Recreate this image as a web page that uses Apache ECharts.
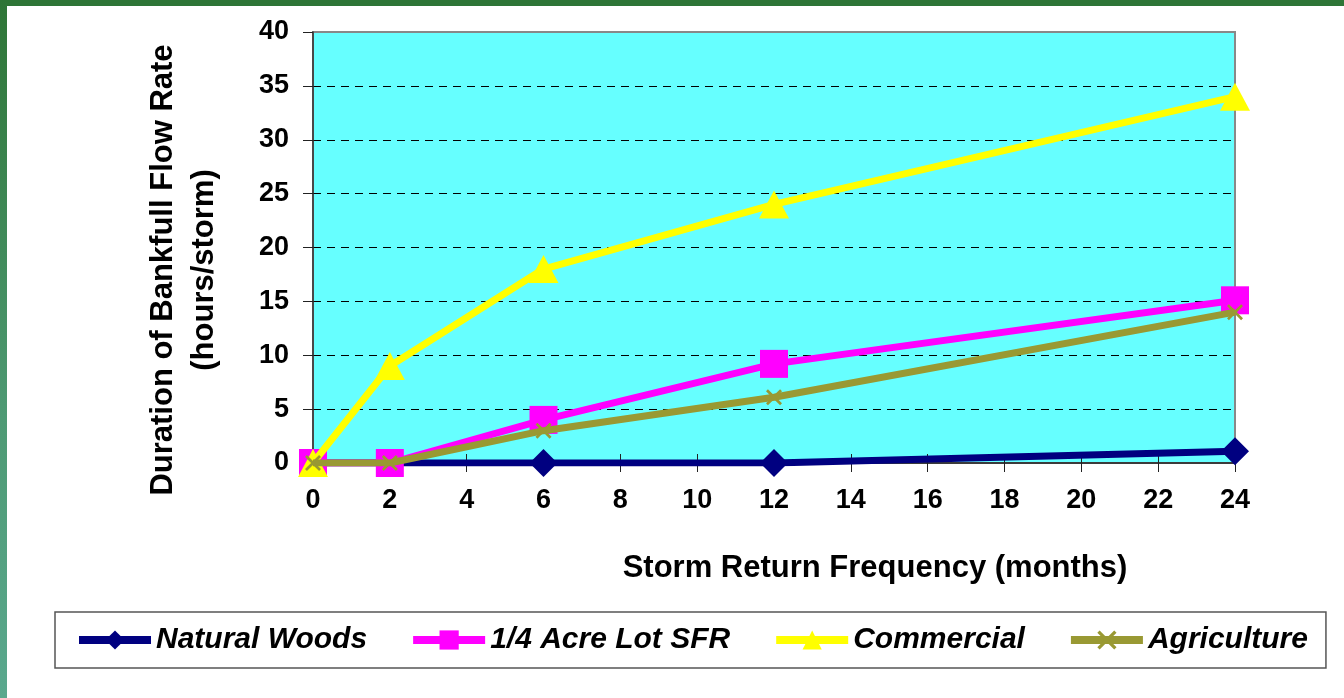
<!DOCTYPE html>
<html>
<head>
<meta charset="utf-8">
<title>Duration of Bankfull Flow Rate</title>
<script src="https://cdn.jsdelivr.net/npm/echarts@6/dist/echarts.min.js"></script>
<style>
  html, body { margin: 0; padding: 0; background: #ffffff; }
  #chart { width: 1344px; height: 698px; }
</style>
</head>
<body>
<div id="chart"></div>
<script>
// Storm return frequency (months) and duration of bankfull flow (hours/storm)
const months = [0, 2, 6, 12, 24];
const naturalWoods = [0, 0, 0, 0, 1.1];
const quarterAcreSFR = [0, 0, 4, 9.2, 15.1];
const commercial = [0, 9, 18, 24, 34];
const agriculture = [0, 0, 3, 6.1, 14];

const seriesNames = ['Natural Woods', '1/4 Acre Lot SFR', 'Commercial', 'Agriculture'];
const yTicks = [0, 5, 10, 15, 20, 25, 30, 35, 40];

const FONT = '"Liberation Sans", Arial, sans-serif';
const crossSymbol = 'path://M0,1.2L1.2,0L5,3.8L8.8,0L10,1.2L6.2,5L10,8.8L8.8,10L5,6.2L1.2,10L0,8.8L3.8,5Z';

function pairs(values) {
  return months.map((m, i) => [m, values[i]]);
}

// Hide the split lines that coincide with the plot border (0 and 40)
const gridColors = yTicks.map((v, i) => (i === 0 || i === yTicks.length - 1) ? 'rgba(0,0,0,0)' : '#000000');

const chart = echarts.init(document.getElementById('chart'), null, { renderer: 'canvas' });

const option = {
  backgroundColor: '#ffffff',
  animation: false,
  textStyle: { fontFamily: FONT },
  grid: {
    left: 313, right: 109, top: 32, bottom: 235,
    show: true,
    backgroundColor: '#66FFFF',
    borderColor: '#888888',
    borderWidth: 2
  },
  xAxis: [
    {
      type: 'value', min: 0, max: 24, interval: 2,
      axisLine: { show: true, lineStyle: { color: '#222222', width: 1.5 } },
      axisTick: { show: true, inside: false, length: 9, lineStyle: { color: '#222222', width: 1 } },
      axisLabel: { margin: 24, fontSize: 27, fontWeight: 'bold', color: '#000000', fontFamily: FONT },
      splitLine: { show: false }
    },
    {
      type: 'value', min: 0, max: 24, interval: 2, position: 'bottom',
      axisLine: { show: false },
      axisTick: { show: true, inside: true, length: 9, lineStyle: { color: '#222222', width: 1 } },
      axisLabel: { show: false },
      splitLine: { show: false }
    }
  ],
  yAxis: {
    type: 'value', min: 0, max: 40, interval: 5,
    axisLine: { show: true, lineStyle: { color: '#333333', width: 1.5 } },
    axisTick: { show: true, inside: false, length: 10, lineStyle: { color: '#222222', width: 1 } },
    axisLabel: { margin: 24, fontSize: 27, fontWeight: 'bold', color: '#000000', fontFamily: FONT },
    splitLine: { show: true, lineStyle: { color: gridColors, type: [8, 6], width: 1 } }
  },
  legend: {
    left: 55, top: 612, width: 1300,
    orient: 'horizontal',
    padding: [13, 18, 13, 20],
    itemGap: 42,
    itemWidth: 72, itemHeight: 24,
    borderColor: '#555555', borderWidth: 1.5,
    lineStyle: { width: 8 },
    textStyle: { fontSize: 30, fontWeight: 'bold', fontStyle: 'italic', color: '#000000', fontFamily: FONT },
    data: seriesNames
  },
  graphic: [
    {
      type: 'rect', left: 0, top: 0, z: 100,
      shape: { width: 1344, height: 6 },
      style: { fill: '#2E7536' }
    },
    {
      type: 'rect', left: 0, top: 0, z: 100,
      shape: { width: 7, height: 698 },
      style: {
        fill: new echarts.graphic.LinearGradient(0, 0, 0, 1, [
          { offset: 0, color: '#2E7536' },
          { offset: 0.6, color: '#4E9A74' },
          { offset: 1, color: '#5AA88E' }
        ])
      }
    },
    {
      type: 'text', x: 184, y: 270, rotation: Math.PI / 2,
      style: {
        text: 'Duration of Bankfull Flow Rate\n(hours/storm)',
        font: 'bold 31px ' + FONT,
        fill: '#000000',
        align: 'center', verticalAlign: 'middle',
        lineHeight: 41
      }
    },
    {
      type: 'text', x: 875, y: 568,
      style: {
        text: 'Storm Return Frequency (months)',
        font: 'bold 31px ' + FONT,
        fill: '#000000',
        align: 'center', verticalAlign: 'middle'
      }
    }
  ],
  series: [
    {
      name: seriesNames[0], type: 'line', data: pairs(naturalWoods),
      symbol: 'diamond', symbolSize: 28,
      lineStyle: { color: '#000080', width: 7 },
      itemStyle: { color: '#000080' }, z: 2
    },
    {
      name: seriesNames[1], type: 'line', data: pairs(quarterAcreSFR),
      symbol: 'rect', symbolSize: 28,
      lineStyle: { color: '#FF00FF', width: 7 },
      itemStyle: { color: '#FF00FF' }, z: 3
    },
    {
      name: seriesNames[2], type: 'line', data: pairs(commercial),
      symbol: 'triangle', symbolSize: [30, 28],
      lineStyle: { color: '#FFFF00', width: 7 },
      itemStyle: { color: '#FFFF00' }, z: 4
    },
    {
      name: seriesNames[3], type: 'line', data: pairs(agriculture),
      symbol: crossSymbol, symbolSize: 16,
      lineStyle: { color: '#999933', width: 7 },
      itemStyle: { color: '#999933' }, z: 5
    }
  ]
};

chart.setOption(option);
</script>
</body>
</html>
